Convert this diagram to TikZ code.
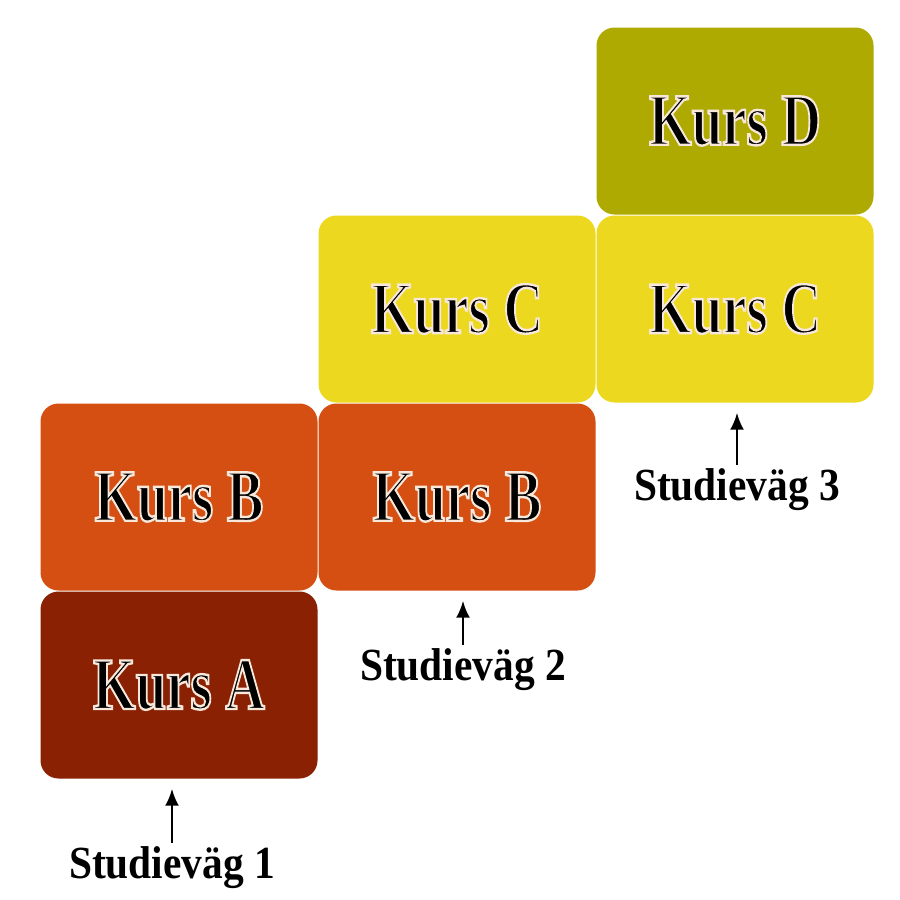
\documentclass[tikz,border=0pt]{standalone}
\usepackage{fontspec}
\setmainfont{Liberation Serif}
\usetikzlibrary{arrows.meta}
\definecolor{kursA}{HTML}{8A2102}
\definecolor{kursB}{HTML}{D54E12}
\definecolor{kursC}{HTML}{ECD81E}
\definecolor{kursD}{HTML}{AFAA02}
\newcommand{\kurstext}[1]{\scalebox{0.74}[1]{\special{pdf:literal direct 2 Tr 2.4 w 0.97 0.91 0.86 RG}#1\special{pdf:literal direct 0 Tr}}}
\newcommand{\vagtext}[1]{\scalebox{0.9}[1]{#1}}
\begin{document}
\begin{tikzpicture}[x=1pt,y=-1pt,
  kursbox/.style={rounded corners=18pt, minimum width=277pt, minimum height=187pt,
    inner sep=0pt, font=\fontsize{74}{80}\selectfont\bfseries, text=black},
  vaglabel/.style={inner sep=0pt, anchor=base, font=\fontsize{46}{50}\selectfont\bfseries},
  pil/.style={-{Latex[length=17pt,width=14pt]}, line width=2.6pt, shorten >=10pt, shorten <=3pt}]
\useasboundingbox[fill=white] (0,0) rectangle (900,900);
\node[kursbox, fill=kursA] (a)  at (179,685) {\kurstext{Kurs A}};
\node[kursbox, fill=kursB] (b1) at (179,497) {\kurstext{Kurs B}};
\node[kursbox, fill=kursB] (b2) at (457,497) {\kurstext{Kurs B}};
\node[kursbox, fill=kursC] (c2) at (457,309) {\kurstext{Kurs C}};
\node[kursbox, fill=kursC] (c3) at (735,309) {\kurstext{Kurs C}};
\node[kursbox, fill=kursD] (d)  at (735,121) {\kurstext{Kurs D}};
\node[vaglabel] (s1) at (172,878) {\vagtext{Studieväg 1}};
\node[vaglabel] (s2) at (463,680) {\vagtext{Studieväg 2}};
\node[vaglabel] (s3) at (737,500) {\vagtext{Studieväg 3}};
\draw[pil] (s1.north) -- (s1.north |- a.south);
\draw[pil] (s2.north) -- (s2.north |- b2.south);
\draw[pil] (s3.north) -- (s3.north |- c3.south);
\end{tikzpicture}
\end{document}
